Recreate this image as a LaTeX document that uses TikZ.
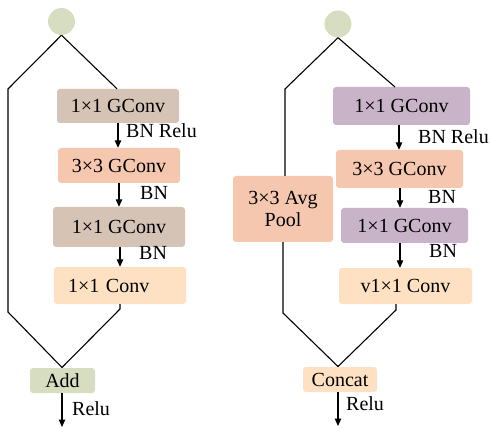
\documentclass[tikz,border=0pt]{standalone}
\usepackage{fontspec}
\setmainfont{Liberation Serif}
\usetikzlibrary{arrows.meta}
\definecolor{cgreen}{HTML}{D7DDC0}
\definecolor{ctan}{HTML}{D5C3B5}
\definecolor{csalmon}{HTML}{F5C7AF}
\definecolor{cpeach}{HTML}{FDE1C2}
\definecolor{cpurple}{HTML}{C9B3C9}
\tikzset{
  box/.style={rectangle, rounded corners=3pt, inner sep=0pt, font=\fontsize{20}{22}\selectfont},
  dot/.style={circle, fill=cgreen, minimum size=27pt, inner sep=0pt},
  lbl/.style={anchor=base west, inner sep=0pt, font=\fontsize{20}{22}\selectfont},
  wire/.style={line width=1.1pt, line join=miter},
  arr/.style={line width=1.1pt, -{Triangle[length=7.5pt,width=6.5pt]}},
}
\begin{document}
\begin{tikzpicture}[x=1pt,y=-1pt]
\useasboundingbox (0,0) rectangle (491,428);
% ---------- left block ----------
\node[dot] (c1) at (61.5,21.5) {};
\node[box, fill=ctan, minimum width=122, minimum height=34] (b1) at (118,106) {1×1 GConv};
\node[box, fill=csalmon, minimum width=122, minimum height=35] (b2) at (119,165.5) {3×3 GConv};
\node[box, fill=ctan, minimum width=132, minimum height=40] (b3) at (119,227) {1×1 GConv};
\node[box, fill=cpeach, minimum width=132, minimum height=37, text width=104, inner xsep=14pt, align=left] (b4) at (120,285.5) {1×1 Conv};
\node[box, fill=cgreen, minimum width=65, minimum height=25] (add) at (62.5,380.5) {Add};
\coordinate (lk) at (8,89);
\coordinate (lb) at (8,312);
\coordinate (lm) at (62,367.5);
\coordinate (lr) at (120,309);
\draw[wire] (c1.south) -- (lk) -- (lb) -- (lm);
\draw[wire] (c1.south) -- ([xshift=-1pt]b1.north);
\draw[wire] (b4.south) -- (lr) -- (lm);
\draw[arr] (b1.south) -- (b1.south |- b2.north);
\draw[arr] (b2.south) -- (b2.south |- b3.north);
\draw[arr] ([xshift=1pt]b3.south) -- ([xshift=1pt]b3.south |- b4.north);
\coordinate (lout) at (62,427);
\draw[arr] (add.south -| lout) -- (lout);
\node[lbl] (l1) at (126,138) {BN Relu};
\node[lbl] (l2) at (140,200) {BN};
\node[lbl] (l3) at (139,259) {BN};
\node[lbl] (l4) at (72,415) {Relu};
% ---------- right block ----------
\node[dot] (c2) at (338,24) {};
\node[box, fill=cpurple, minimum width=137, minimum height=38] (r1) at (401.5,106) {1×1 GConv};
\node[box, fill=csalmon, minimum width=127, minimum height=38] (r2) at (399.5,169) {3×3 GConv};
\node[box, fill=cpurple, minimum width=127, minimum height=35] (r3) at (404.5,225.5) {1×1 GConv};
\node[box, fill=cpeach, minimum width=133, minimum height=36] (r4) at (405.5,286) {v1×1 Conv};
\node[box, fill=csalmon, minimum width=100, minimum height=66, align=center] (pool) at (283,209) {3×3 Avg\\Pool};
\node[box, fill=cpeach, minimum width=74, minimum height=25] (cat) at (340,379.5) {Concat};
\coordinate (rk) at (285,89);
\coordinate (rb) at (283,313);
\coordinate (rm) at (338,366.5);
\coordinate (rr) at (396,310);
\coordinate (rt) at (395,87);
\draw[wire] (c2.south) -- (rk) -- (rk |- pool.north);
\draw[wire] (c2.south) -- (rt);
\draw[wire] (pool.south) -- (rb) -- (rm);
\draw[wire] (rr |- r4.south) -- (rr) -- (rm);
\draw[arr] ([xshift=-2.5pt]r1.south) -- ([xshift=-2.5pt]r1.south |- r2.north);
\draw[arr] ([xshift=0.5pt]r2.south) -- ([xshift=0.5pt]r2.south |- r3.north);
\draw[arr] ([xshift=-4.5pt]r3.south) -- ([xshift=-4.5pt]r3.south |- r4.north);
\coordinate (rout) at (338,426);
\draw[arr] (cat.south -| rout) -- (rout);
\node[lbl] (m1) at (418,144) {BN Relu};
\node[lbl] (m2) at (428,204) {BN};
\node[lbl] (m3) at (429,258) {BN};
\node[lbl] (m4) at (346,410) {Relu};
\end{tikzpicture}
\end{document}
